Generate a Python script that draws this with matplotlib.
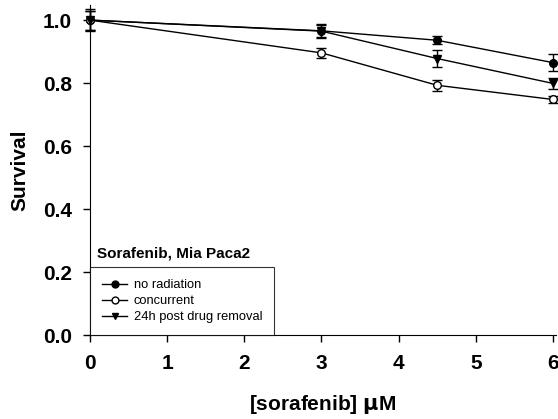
import numpy as np
import matplotlib
matplotlib.use("Agg")
import matplotlib.pyplot as plt

plt.rcParams["font.family"] = ["Liberation Sans", "DejaVu Sans"]

# data
dose = [0, 3, 4.5, 6]
no_rad = [1.0, 0.966, 0.936, 0.865]
no_rad_err = [0.03, 0.02, 0.013, 0.027]
concurrent = [1.0, 0.896, 0.793, 0.748]
concurrent_err = [0.03, 0.015, 0.018, 0.011]
post24 = [1.0, 0.965, 0.878, 0.799]
post24_err = [0.035, 0.022, 0.028, 0.018]

fig = plt.figure(figsize=(5.58, 4.19), dpi=100)
ax = fig.add_axes([90 / 558, 84 / 419, 466 / 558, 330 / 419])

kw = dict(color="black", lw=1.0, ms=5.5, capsize=3.5, elinewidth=1.0, capthick=1.0, clip_on=False)
e1 = ax.errorbar(dose, no_rad, yerr=no_rad_err, marker="o", mfc="black", mec="black", **kw)
e2 = ax.errorbar(dose, concurrent, yerr=concurrent_err, marker="o", mfc="white", mec="black", **kw)
e3 = ax.errorbar(dose, post24, yerr=post24_err, marker="v", mfc="black", mec="black", **kw)

ax.set_xlim(0, 6.04)
ax.set_ylim(0, 1.048)
ax.set_xticks(range(0, 7))
ax.set_yticks(np.arange(0, 1.01, 0.2))
ax.set_yticklabels([f"{v:.1f}" for v in np.arange(0, 1.01, 0.2)])
ax.spines["top"].set_visible(False)
ax.spines["right"].set_visible(False)
ax.tick_params(direction="out", length=5, width=1, labelsize=15)
ax.tick_params(axis="x", pad=9)
ax.tick_params(axis="y", pad=8)
for lab in ax.get_xticklabels() + ax.get_yticklabels():
    lab.set_fontweight("bold")

ax.set_xlabel("[sorafenib] $\\mathbf{\\mu}$M", fontsize=15, fontweight="bold", labelpad=14)
ax.set_ylabel("Survival", fontsize=15, fontweight="bold", labelpad=10)

leg = ax.legend([e1[0], e2[0], e3[0]], ["no radiation", "concurrent", "24h post drug removal"],
                loc="lower left", bbox_to_anchor=(0, 0), fontsize=9.3, frameon=True, fancybox=False,
                edgecolor="black", borderaxespad=0, handlelength=2.0, handletextpad=0.5,
                borderpad=0.9, labelspacing=0.32, markerscale=0.9)
leg.get_frame().set_linewidth(0.8)
ax.text(0.09, 0.245, "Sorafenib, Mia Paca2", fontsize=11, fontweight="bold")

fig.savefig("out.png", dpi=100)
